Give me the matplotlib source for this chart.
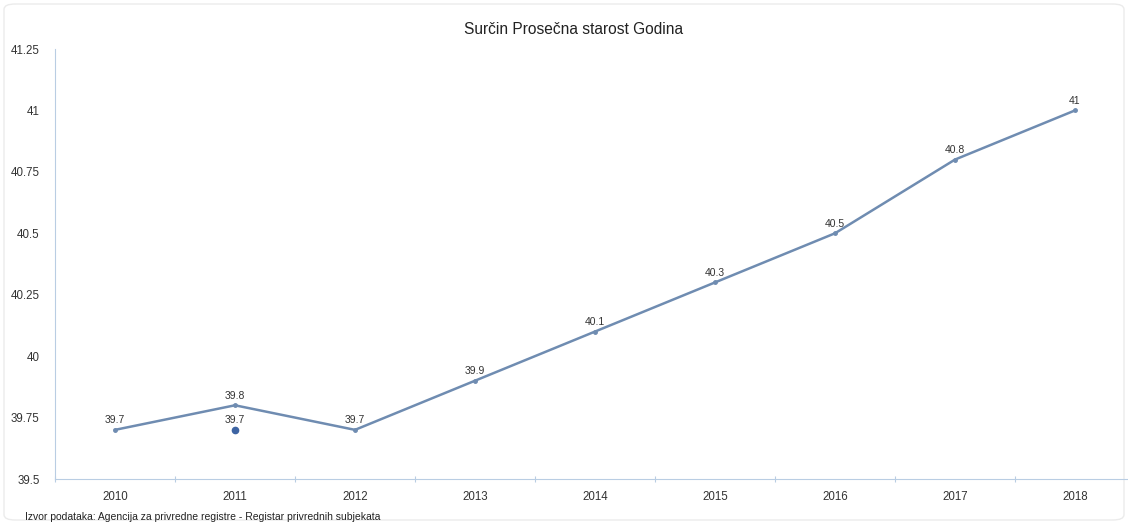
import numpy as np
import matplotlib.pyplot as plt
from matplotlib.patches import FancyBboxPatch

plt.rcParams['font.family'] = ['Liberation Sans', 'DejaVu Sans']

years = ['2010', '2011', '2012', '2013', '2014', '2015', '2016', '2017', '2018']
starost = [39.7, 39.8, 39.7, 39.9, 40.1, 40.3, 40.5, 40.8, 41.0]
# second series, only one value (2011)
extra_year = ['2011']
extra_val = [39.7]
yticks = [39.5, 39.75, 40, 40.25, 40.5, 40.75, 41, 41.25]
ytick_labels = ['39.5', '39.75', '40', '40.25', '40.5', '40.75', '41', '41.25']

line_color = '#6f8cb1'
dot_color = '#3d64a3'
axis_color = '#b9cde3'
text_color = '#333333'

fig = plt.figure(figsize=(11.28, 5.25), dpi=100)

# light card border
card = FancyBboxPatch((4 / 1128, 5 / 525), 1120 / 1128, 516 / 525,
                      boxstyle='round,pad=0,rounding_size=0.01',
                      transform=fig.transFigure, facecolor='white',
                      edgecolor='#ebebeb', linewidth=1, zorder=-5)
fig.patches.append(card)

ax = fig.add_axes([55 / 1128, 1 - 479 / 525, 1080 / 1128, 430 / 525])
ax.set_facecolor('none')
ax.set_zorder(2)

x = np.arange(len(years))
ax.plot(x, starost, color=line_color, linewidth=1.8, marker='o',
        markersize=2.5, zorder=3)
ex = [years.index(y) for y in extra_year]
ax.plot(ex, extra_val, linestyle='none', marker='o', markersize=4.5,
        color=dot_color, zorder=3)

'''value labels'''
for xi, v in zip(x, starost):
    lab = '41' if v == 41 else str(v)
    ax.text(xi, v + 0.018, lab, ha='center', va='bottom', fontsize=7.5,
            color=text_color)
for xi, v in zip(ex, extra_val):
    ax.text(xi, v + 0.018, str(v), ha='center', va='bottom', fontsize=7.5,
            color=text_color)

ax.set_xlim(-0.5, len(years) - 0.5)
ax.set_ylim(39.5, 41.25)
ax.set_yticks(yticks)
ax.set_yticklabels(ytick_labels)
ax.set_xticks(x)
ax.set_xticklabels(years)
ax.set_xticks(np.arange(len(years) + 1) - 0.5, minor=True)

ax.tick_params(axis='y', length=0, pad=11, labelsize=8.3, labelcolor=text_color)
ax.tick_params(axis='x', which='major', length=0, pad=9, labelsize=8.3,
               labelcolor=text_color)
ax.tick_params(axis='x', which='minor', length=4, direction='inout',
               color=axis_color, width=0.8)

for s in ['top', 'right']:
    ax.spines[s].set_visible(False)
ax.spines['left'].set_color(axis_color)
ax.spines['bottom'].set_color(axis_color)
ax.spines['left'].set_linewidth(0.8)
ax.spines['bottom'].set_linewidth(0.8)

fig.text(574 / 1128, 1 - 30 / 525, 'Surčin Prosečna starost Godina', ha='center',
         va='center', fontsize=11.2, color='#222222')
fig.text(25 / 1128, 1 - 517 / 525, 'Izvor podataka: Agencija za privredne registre - Registar privrednih subjekata',
         ha='left', va='center', fontsize=7.5, color='#222222')

plt.savefig('out.png', dpi=100)
